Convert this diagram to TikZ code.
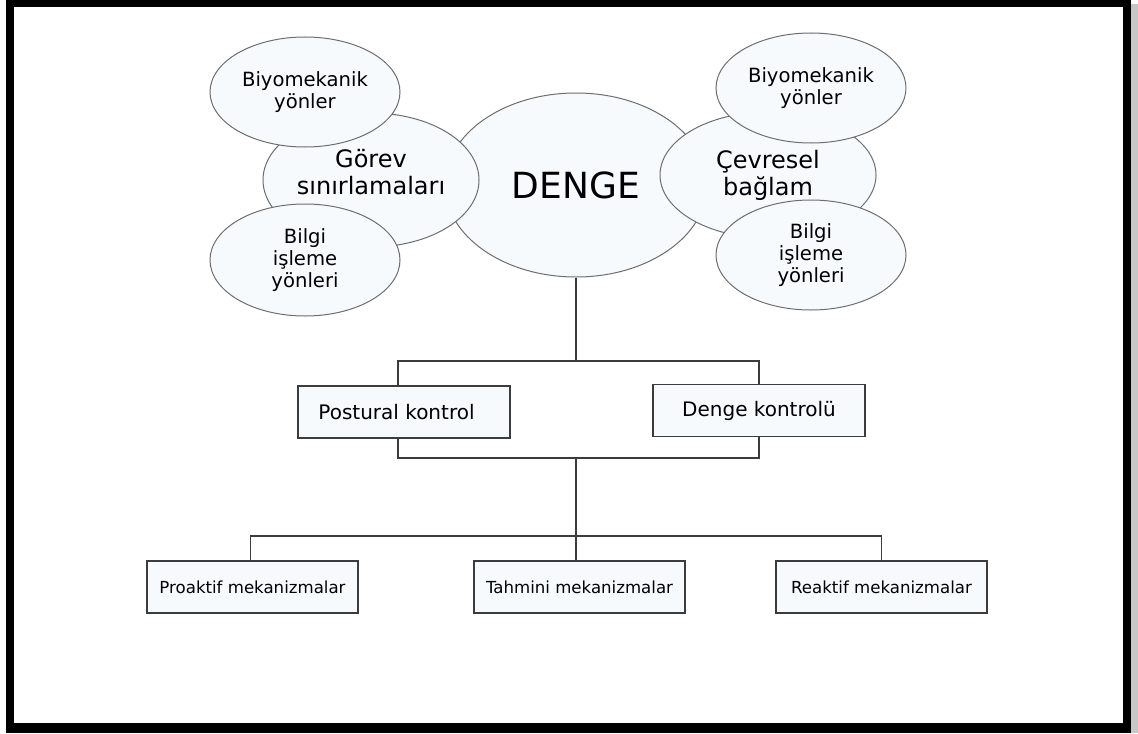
\documentclass[tikz,border=0pt]{standalone}
\usepackage{fontspec}
\setmainfont{DejaVu Sans}
\usetikzlibrary{shapes.geometric,calc,positioning}
\definecolor{bubblefill}{RGB}{246,250,252}
\definecolor{bubbleline}{RGB}{110,110,110}
\definecolor{treeline}{RGB}{60,60,60}
\tikzset{
  main ellipse/.style={ellipse,draw=bubbleline,fill=bubblefill,line width=0.5pt,
    minimum width=131pt,minimum height=92pt,inner sep=0pt,
    font=\fontsize{18}{20}\selectfont},
  side ellipse/.style={ellipse,draw=bubbleline,fill=bubblefill,line width=0.5pt,
    minimum width=108pt,minimum height=65pt,inner sep=0pt},
  side text/.style={align=center,inner sep=0pt,
    font=\fontsize{12}{13.5}\selectfont},
  aspect ellipse/.style={ellipse,draw=bubbleline,fill=bubblefill,line width=0.5pt,
    minimum width=95pt,minimum height=55pt,inner sep=0pt,align=center,
    font=\fontsize{9.8}{11.2}\selectfont},
  control box/.style={rectangle,draw=treeline,fill=bubblefill,line width=0.9pt,
    minimum width=106pt,minimum height=26pt,inner sep=0pt,
    font=\fontsize{10}{12}\selectfont},
  mechanism box/.style={rectangle,draw=treeline,fill=bubblefill,line width=0.9pt,
    minimum width=105.5pt,minimum height=26pt,inner sep=0pt,
    font=\fontsize{8.3}{10}\selectfont},
  tree edge/.style={draw=treeline,line width=0.9pt}
}
\begin{document}
\begin{tikzpicture}[x=0.5pt,y=-0.5pt]
    \useasboundingbox (0,0) rectangle (1138,733);
    % frame
    \fill[gray!45] (1131,4) rectangle (1138,733);
    \fill[black] (6,0) rectangle (1131,733);
    \fill[white] (14,7) rectangle (1123,723);
    % bubbles
    \coordinate (dengecenter) at (576,185);
    \node[main ellipse] (denge) at (dengecenter) {DENGE};
    \node[side ellipse,minimum height=67pt,
      label={[side text,yshift=3.75pt]center:Görev\\sınırlamaları}] (gorev) at (371,180) {};
    \node[side ellipse,minimum height=63pt,
      label={[side text]center:Çevresel\\bağlam}] (cevre) at (768,175) {};
    \node[aspect ellipse] (biyoleft) at (305,92) {Biyomekanik\\yönler};
    \node[aspect ellipse,minimum height=56pt] (bilgileft) at (305,260)
      {Bilgi\\işleme\\yönleri};
    \node[aspect ellipse] (biyoright) at (811,88) {Biyomekanik\\yönler};
    \node[aspect ellipse] (bilgiright) at (811,255)
      {Bilgi\\işleme\\yönleri};
    % control level
    \node[control box] (postural) at (404,412) {\hspace*{-7.5pt}Postural kontrol};
    \node[control box] (kontrol) at (759,410.5) {Denge kontrolü};
    \coordinate (topjoin) at (576,361);
    \coordinate (botjoin) at (576,458);
    \draw[tree edge] (denge.south) -- (topjoin);
    \draw[tree edge] ([xshift=-3pt]postural.north) |- (topjoin) -| (kontrol.north);
    \draw[tree edge] ([xshift=-3pt]postural.south) |- (botjoin) -| (kontrol.south);
    % mechanisms
    \node[mechanism box] (proaktif) at (252.5,587) {Proaktif mekanizmalar};
    \node[mechanism box] (tahmini) at (579.5,587) {Tahmini mekanizmalar};
    \node[mechanism box] (reaktif) at (881.5,587) {Reaktif mekanizmalar};
    \coordinate (mechjoin) at (576,536);
    \draw[tree edge] (botjoin) -- (mechjoin) -- (mechjoin |- tahmini.north);
    \draw[tree edge] ([xshift=-1pt]proaktif.north) |- (mechjoin) -| (reaktif.north);
  \end{tikzpicture}
\end{document}
